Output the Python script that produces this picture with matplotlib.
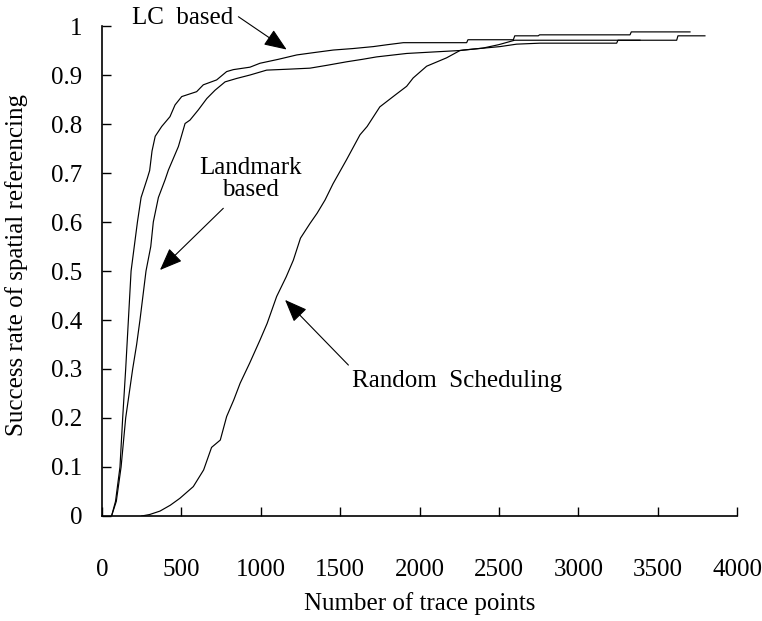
import matplotlib.pyplot as plt
from matplotlib.ticker import FormatStrFormatter

plt.rcParams['font.family'] = ['Liberation Serif', 'DejaVu Serif']

# values
lc_x = [60, 85, 113, 130, 149, 166, 183, 223, 246, 286, 300, 315, 335, 376, 428, 460,
        502, 596, 638, 722, 785, 827, 932, 995, 1110, 1227, 1340, 1457, 1580, 1709,
        1800, 1898, 2297, 2305, 2591, 2600, 2748, 2756, 3326, 3334, 3704]
lc_y = [0, 0.03, 0.1, 0.2, 0.3, 0.4, 0.5, 0.6, 0.65, 0.69, 0.705, 0.745, 0.775, 0.795,
        0.815, 0.839, 0.856, 0.866, 0.88, 0.89, 0.907, 0.911, 0.916, 0.924, 0.932,
        0.941, 0.946, 0.951, 0.954, 0.958, 0.962, 0.966, 0.966, 0.972, 0.972, 0.98,
        0.98, 0.982, 0.982, 0.988, 0.988]

lm_x = [60, 90, 120, 149, 193, 218, 239, 277, 307, 323, 355, 397, 418, 481, 523, 554,
        607, 660, 712, 775, 848, 932, 1037, 1180, 1310, 1420, 1541, 1640, 1730, 1919,
        2085, 2255, 2400, 2500, 2599, 3620, 3628, 3798]
lm_y = [0, 0.03, 0.1, 0.2, 0.3, 0.35, 0.4, 0.5, 0.55, 0.6, 0.65, 0.686, 0.706, 0.754,
        0.801, 0.808, 0.829, 0.852, 0.869, 0.886, 0.893, 0.9, 0.91, 0.912, 0.914, 0.92,
        0.927, 0.932, 0.937, 0.944, 0.947, 0.95, 0.955, 0.962, 0.971, 0.971, 0.98, 0.98]

rs_x = [250, 300, 365, 430, 490, 575, 640, 690, 745, 785, 830, 870, 930, 995, 1040,
        1100, 1160, 1205, 1250, 1310, 1355, 1405, 1455, 1540, 1625, 1670, 1750, 1850,
        1919, 1960, 2045, 2170, 2255, 2276, 2507, 2612, 2759, 3242, 3250, 3389]
rs_y = [0, 0.003, 0.01, 0.022, 0.036, 0.06, 0.094, 0.14, 0.155, 0.203, 0.237, 0.271,
        0.312, 0.359, 0.393, 0.448, 0.488, 0.522, 0.567, 0.597, 0.618, 0.645, 0.678,
        0.727, 0.778, 0.795, 0.835, 0.86, 0.877, 0.894, 0.918, 0.935, 0.95, 0.951,
        0.958, 0.963, 0.965, 0.965, 0.971, 0.971]

fig = plt.figure(figsize=(7.62, 6.21), dpi=100)
ax = fig.add_axes([0.1339, 0.1691, 0.8333, 0.789])

ax.plot(lc_x, lc_y, color='black', lw=0.85)
ax.plot(lm_x, lm_y, color='black', lw=0.85)
ax.plot(rs_x, rs_y, color='black', lw=0.85)

ax.set_xlim(0, 4000)
ax.set_ylim(0, 1)
ax.set_xticks(range(0, 4001, 500))
ax.set_yticks([i / 10 for i in range(11)])
ax.yaxis.set_major_formatter(FormatStrFormatter('%g'))

for s in ['top', 'right']:
    ax.spines[s].set_visible(False)
for s in ['left', 'bottom']:
    ax.spines[s].set_linewidth(1.2)
ax.tick_params(axis='both', direction='in', length=6.5, width=1.0, labelsize=18)
ax.tick_params(axis='x', pad=31)
ax.tick_params(axis='y', pad=14)

ax.set_xlabel('Number of trace points', fontsize=18, va='center')
ax.xaxis.set_label_coords(0.5, -0.178)
ax.set_ylabel('Success rate of spatial referencing', fontsize=18, va='center')
ax.yaxis.set_label_coords(-0.134, 0.512)

arrow = dict(arrowstyle='-|>,head_length=0.7,head_width=0.28', color='black',
             lw=0.8, mutation_scale=20, shrinkA=0, shrinkB=0)

ax.text(187, 1.016, 'LC  based', fontsize=18, ha='left', va='center', clip_on=False)
ax.annotate('', xy=(1163, 0.952), xytext=(859, 1.019), arrowprops=arrow,
            annotation_clip=False)

ax.text(935, 0.688, 'Landmark\nbased', fontsize=18, ha='center', va='center',
        linespacing=1.0)
ax.annotate('', xy=(365, 0.502), xytext=(764, 0.628), arrowprops=arrow)

ax.text(1573, 0.276, 'Random  Scheduling', fontsize=18, ha='left', va='center')
ax.annotate('', xy=(1153, 0.441), xytext=(1552, 0.308), arrowprops=arrow)

plt.savefig('out.png', dpi=100)
